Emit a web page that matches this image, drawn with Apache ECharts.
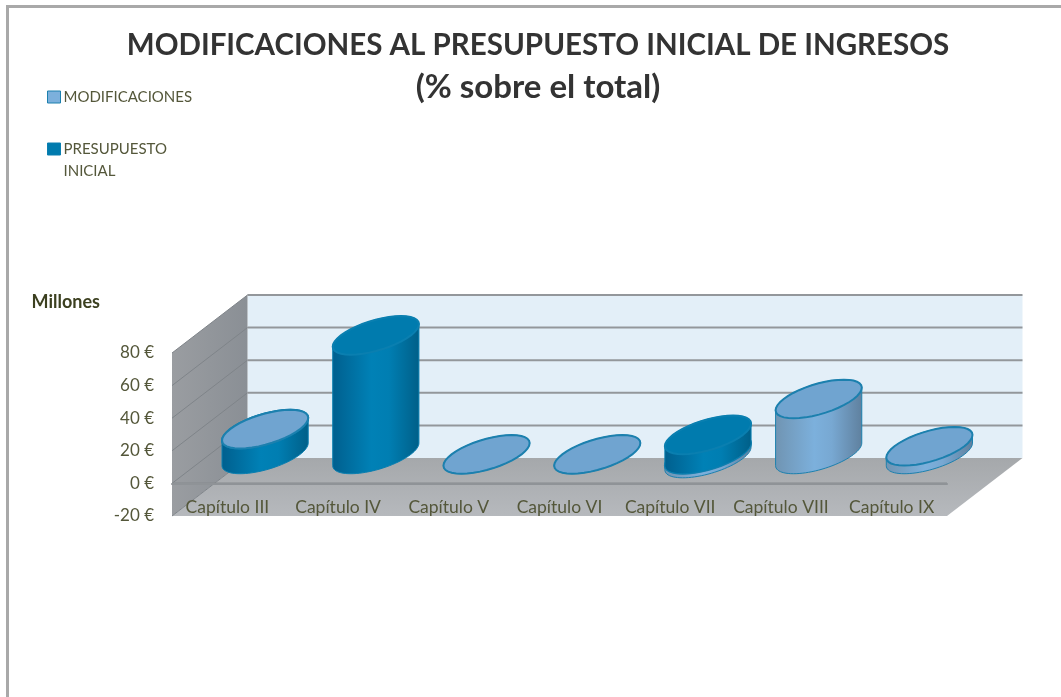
<!DOCTYPE html>
<html>
<head>
<meta charset="utf-8">
<style>
  html, body { margin: 0; padding: 0; background: #fff; }
  #chart { width: 1061px; height: 697px; }
</style>
<script src="https://cdn.jsdelivr.net/npm/echarts@6/dist/echarts.min.js"></script>
</head>
<body>
<div id="chart"></div>
<script>
const categories = ['Capítulo III', 'Capítulo IV', 'Capítulo V', 'Capítulo VI', 'Capítulo VII', 'Capítulo VIII', 'Capítulo IX']
const presupuestoInicial = [15.5, 73, 0, 0, 12, 0, 0]
const modificaciones = [0, null, 0, 0, -2.5, 34, 5]
const yTicks = [-20, 0, 20, 40, 60, 80]

// fake 3d: how far the back wall sits from the front plane
const depthX = 75.5
const depthY = 58
const textColor = '#54573a'

const lightStyle = {
  top: '#70a4d0', line: '#1c80ae',
  side: ['#7094b2', '#7cb0dc', '#78a8d2', '#5f809e'],
}
const darkStyle = {
  top: '#007bae', line: '#0a7fb0',
  side: ['#005f8e', '#0081b6', '#007eb2', '#005f88'],
}

const ellipseAt = (c, a, bx, by, from, to) => {
  const pts = []
  for (let i = 0; i <= 40; i++) {
    const t = from + (to - from) * i / 40
    pts.push([c[0] + a * Math.cos(t) + bx * Math.sin(t), c[1] - by * Math.sin(t)])
  }
  return pts
}

const cylinder = (style, baseZ) => (params, api) => {
  const i = api.value(0)
  const start = api.coord([i, api.value(1)])
  const end = api.coord([i, api.value(2)])
  const a = api.size([1, 0])[0] * 0.316
  const bx = depthX / 3
  const by = depthY / 3
  const base = [start[0] + depthX / 2, start[1] - depthY / 2]
  const top = [end[0] + depthX / 2, end[1] - depthY / 2]
  const t0 = Math.atan2(bx, a)
  const hi = base[1] < top[1] ? base : top
  const lo = base[1] < top[1] ? top : base
  const outline = ellipseAt(lo, a, bx, by, t0 + Math.PI, t0 + 2 * Math.PI)
    .concat(ellipseAt(hi, a, bx, by, t0, t0 + Math.PI))
  const stops = style.side.map((color, k) => ({ offset: [0, 0.45, 0.65, 1][k], color }))
  return {
    type: 'group',
    children: [
      {
        type: 'polygon',
        z2: baseZ,
        shape: { points: outline },
        style: {
          fill: new echarts.graphic.LinearGradient(0, 0, 1, 0, stops),
          stroke: style.line,
          lineWidth: 1,
        },
      },
      {
        type: 'polygon',
        z2: baseZ + 1,
        shape: { points: ellipseAt(hi, a, bx, by, 0, Math.PI * 2) },
        style: { fill: style.top, stroke: style.line, lineWidth: 2 },
      },
    ],
  }
}

const renderBackdrop = (params, api) => {
  const rect = params.coordSys
  const xL = rect.x
  const xR = rect.x + rect.width
  const yBottom = api.coord([0, yTicks[0]])[1]
  const yTop = api.coord([0, yTicks[yTicks.length - 1]])[1]
  const children = [
    {
      type: 'polygon',
      shape: { points: [[xL + depthX, yTop - depthY], [xR + depthX, yTop - depthY], [xR + depthX, yBottom - depthY], [xL + depthX, yBottom - depthY]] },
      style: { fill: '#e3eff8' },
    },
    {
      type: 'polygon',
      shape: { points: [[xL, yTop], [xL + depthX, yTop - depthY], [xL + depthX, yBottom - depthY], [xL, yBottom]] },
      style: { fill: new echarts.graphic.LinearGradient(0, 0, 1, 0, [{ offset: 0, color: '#9a9da1' }, { offset: 1, color: '#8a8f95' }]) },
    },
    {
      type: 'polygon',
      shape: { points: [[xL, yBottom], [xR, yBottom], [xR + depthX, yBottom - depthY], [xL + depthX, yBottom - depthY]] },
      style: { fill: new echarts.graphic.LinearGradient(0, 0, 0, 1, [{ offset: 0, color: '#a5a8ab' }, { offset: 1, color: '#b6b9bd' }]) },
    },
  ]
  yTicks.forEach(v => {
    const y = api.coord([0, v])[1]
    if (v > yTicks[0]) {
      children.push({
        type: 'line',
        shape: { x1: xL + depthX, y1: y - depthY, x2: xR + depthX, y2: y - depthY },
        style: { stroke: '#93979b', lineWidth: 2 },
      })
    }
    children.push({
      type: 'line',
      shape: { x1: xL, y1: y, x2: xL + depthX, y2: y - depthY },
      style: { stroke: '#7f8489', lineWidth: 1 },
    })
  })
  const zeroY = api.coord([0, 0])[1]
  children.push({
    type: 'line',
    shape: { x1: xL, y1: zeroY, x2: xR, y2: zeroY },
    style: { stroke: '#85898d', lineWidth: 2 },
  })
  return { type: 'group', children }
}

const presupuestoData = presupuestoInicial
  .map((v, i) => [i, 0, v])
  .filter(d => d[2] > 0)
const modificacionData = modificaciones
  .map((v, i) => (v === null ? null : v < 0 ? [i, 0, v] : [i, presupuestoInicial[i], presupuestoInicial[i] + v]))
  .filter(d => d !== null)

const chart = echarts.init(document.getElementById('chart'), null, { renderer: 'canvas' })

chart.setOption({
  animation: false,
  backgroundColor: '#ffffff',
  title: {
    text: '{a|MODIFICACIONES AL PRESUPUESTO INICIAL DE INGRESOS}\n{b|(% sobre el total)}',
    left: 533,
    top: 19,
    textAlign: 'center',
    textStyle: {
      rich: {
        a: { color: '#333333', fontFamily: 'Lato', fontWeight: 'bold', fontSize: 29.5, lineHeight: 42 },
        b: { color: '#333333', fontFamily: 'Lato', fontWeight: 'bold', fontSize: 33, lineHeight: 42 },
      },
    },
  },
  legend: {
    left: 42,
    top: 81,
    orient: 'vertical',
    icon: 'rect',
    itemWidth: 13,
    itemHeight: 12,
    itemGap: 8,
    itemStyle: { borderWidth: 1 },
    selectedMode: false,
    data: ['MODIFICACIONES', 'PRESUPUESTO INICIAL'],
    formatter: name => (name === 'PRESUPUESTO INICIAL' ? '\nPRESUPUESTO\nINICIAL' : name),
    textStyle: { color: textColor, fontFamily: 'Lato', fontSize: 15, lineHeight: 22, padding: [0, 0, 0, -2] },
  },
  grid: { left: 172, top: 353, width: 775, height: 163 },
  xAxis: {
    type: 'category',
    data: categories,
    z: 10,
    axisTick: { show: false },
    axisLine: { lineStyle: { color: '#8f9397', width: 2 } },
    axisLabel: { inside: true, margin: 0, color: textColor, fontFamily: 'Lato', fontSize: 17.5, interval: 0 },
  },
  yAxis: {
    type: 'value',
    min: -20,
    max: 80,
    interval: 20,
    name: 'Millones',
    nameLocation: 'end',
    nameGap: 42,
    nameTextStyle: { color: '#3c4020', fontFamily: 'Lato', fontWeight: 'bold', fontSize: 18, align: 'right', padding: [0, 72, 0, 0] },
    axisLine: { show: false },
    axisTick: { show: false },
    splitLine: { show: false },
    axisLabel: { margin: 18, color: textColor, fontFamily: 'Lato', fontSize: 17, formatter: '{value} €' },
  },
  graphic: [
    {
      type: 'polyline',
      silent: true,
      shape: { points: [[7.5, 697], [7.5, 6.5], [1061, 6.5]] },
      style: { stroke: '#a9a9a9', lineWidth: 3, fill: null },
    },
  ],
  series: [
    {
      type: 'custom',
      name: 'fondo',
      silent: true,
      z: 1,
      renderItem: renderBackdrop,
      data: [[0]],
      encode: { x: 0 },
    },
    {
      type: 'custom',
      name: 'PRESUPUESTO INICIAL',
      z: 2,
      itemStyle: { color: '#007bae', borderColor: '#0a7fb0' },
      renderItem: cylinder(darkStyle, 10),
      data: presupuestoData,
      encode: { x: 0, y: [1, 2] },
    },
    {
      type: 'custom',
      name: 'MODIFICACIONES',
      z: 2,
      itemStyle: { color: '#7cb0dc', borderColor: '#1c80ae' },
      renderItem: (params, api) => cylinder(lightStyle, api.value(2) < 0 ? 1 : 20)(params, api),
      data: modificacionData,
      encode: { x: 0, y: [1, 2] },
    },
  ],
})
</script>
</body>
</html>
